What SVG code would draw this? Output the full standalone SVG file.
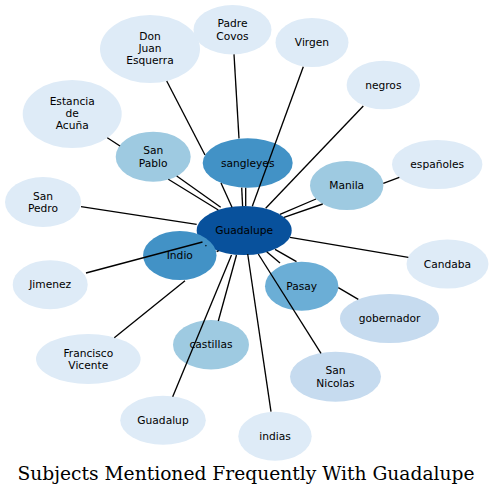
<svg xmlns="http://www.w3.org/2000/svg" width="493" height="496" viewBox="0 0 493 496">
<style>
  .n text { font-family: "DejaVu Sans", sans-serif; font-size: 10.67px; fill: #000; text-anchor: middle; }
  .c0 { fill: #deebf7; }
  .c1 { fill: #c6dbef; }
  .c2 { fill: #9ecae1; }
  .c3 { fill: #6baed6; }
  .c4 { fill: #4292c6; }
  .c5 { fill: #08519c; }
  #edges line { stroke: #000; stroke-width: 1.33; fill: none; }
  .title { font-family: "DejaVu Serif", serif; font-size: 18.67px; fill: #000; text-anchor: middle; }
</style>
<rect width="493" height="496" fill="#fff"/>
<g id="nodes">
  <g id="n-donjuan" class="n"><ellipse class="c0" cx="150" cy="49" rx="50" ry="34"/><text x="150" y="39.5">Don</text><text x="150" y="51.8">Juan</text><text x="150" y="64.1">Esquerra</text></g>
  <g id="n-padrecovos" class="n"><ellipse class="c0" cx="232.5" cy="29.7" rx="39" ry="24.7"/><text x="232.5" y="27.2">Padre</text><text x="232.5" y="39.5">Covos</text></g>
  <g id="n-virgen" class="n"><ellipse class="c0" cx="312" cy="42.5" rx="36.5" ry="24.5"/><text x="312" y="46">Virgen</text></g>
  <g id="n-negros" class="n"><ellipse class="c0" cx="383.3" cy="85" rx="36.7" ry="24.3"/><text x="383.3" y="88.5">negros</text></g>
  <g id="n-estancia" class="n"><ellipse class="c0" cx="72.2" cy="114" rx="49.5" ry="34"/><text x="72.2" y="104.5">Estancia</text><text x="72.2" y="116.8">de</text><text x="72.2" y="129.1">Acuña</text></g>
  <g id="n-sanpablo" class="n"><ellipse class="c2" cx="153.2" cy="156.7" rx="37.5" ry="25"/><text x="153.2" y="154.2">San</text><text x="153.2" y="166.5">Pablo</text></g>
  <g id="n-sangleyes" class="n"><ellipse class="c4" cx="247.7" cy="163" rx="45" ry="24.7"/><text x="247.7" y="166.5">sangleyes</text></g>
  <g id="n-espanoles" class="n"><ellipse class="c0" cx="437.2" cy="164.5" rx="45.2" ry="24.5"/><text x="437.2" y="168">españoles</text></g>
  <g id="n-manila" class="n"><ellipse class="c2" cx="346.7" cy="185.5" rx="36.7" ry="24.5"/><text x="346.7" y="189">Manila</text></g>
  <g id="n-sanpedro" class="n"><ellipse class="c0" cx="43" cy="202" rx="38" ry="25"/><text x="43" y="199.5">San</text><text x="43" y="211.8">Pedro</text></g>
  <g id="n-guadalupe" class="n"><ellipse class="c5" cx="244.2" cy="230.5" rx="47.5" ry="24.5"/><text x="244.2" y="234">Guadalupe</text></g>
  <g id="n-indio" class="n"><ellipse class="c4" cx="179.8" cy="255.5" rx="36.7" ry="24.5"/><text x="179.8" y="259">Indio</text></g>
  <g id="n-candaba" class="n"><ellipse class="c0" cx="447.5" cy="264" rx="41" ry="24.5"/><text x="447.5" y="267.5">Candaba</text></g>
  <g id="n-jimenez" class="n"><ellipse class="c0" cx="50.2" cy="284.7" rx="37.5" ry="24.5"/><text x="50.2" y="288.2">Jimenez</text></g>
  <g id="n-pasay" class="n"><ellipse class="c3" cx="301.7" cy="286.2" rx="36.7" ry="24.5"/><text x="301.7" y="289.7">Pasay</text></g>
  <g id="n-gobernador" class="n"><ellipse class="c1" cx="389.5" cy="318.5" rx="49.5" ry="24.5"/><text x="389.5" y="322">gobernador</text></g>
  <g id="n-castillas" class="n"><ellipse class="c2" cx="211" cy="344.7" rx="38" ry="24.7"/><text x="211" y="348.2">castillas</text></g>
  <g id="n-francisco" class="n"><ellipse class="c0" cx="88.3" cy="359" rx="52.3" ry="25"/><text x="88.3" y="356.5">Francisco</text><text x="88.3" y="368.8">Vicente</text></g>
  <g id="n-sannicolas" class="n"><ellipse class="c1" cx="335.5" cy="376.7" rx="45.5" ry="25"/><text x="335.5" y="374.2">San</text><text x="335.5" y="386.5">Nicolas</text></g>
  <g id="n-guadalup" class="n"><ellipse class="c0" cx="163" cy="420.2" rx="42.8" ry="24.5"/><text x="163" y="423.7">Guadalup</text></g>
  <g id="n-indias" class="n"><ellipse class="c0" cx="275" cy="436.2" rx="36.7" ry="24.5"/><text x="275" y="439.7">indias</text></g>
</g>
<g id="edges">
  <line x1="166.7" y1="81" x2="205" y2="155"/>
  <line x1="221" y1="183" x2="232" y2="207.3"/>
  <line x1="234" y1="54.4" x2="239" y2="138.4"/>
  <line x1="241.7" y1="187.6" x2="242.6" y2="206.3"/>
  <line x1="245.7" y1="187.7" x2="245.7" y2="206"/>
  <line x1="303.3" y1="66.7" x2="252.3" y2="206.3"/>
  <line x1="363.3" y1="106" x2="265.7" y2="208.3"/>
  <line x1="168.3" y1="179.3" x2="218.3" y2="210"/>
  <line x1="176.7" y1="176" x2="220.7" y2="207.3"/>
  <line x1="81" y1="206.7" x2="196.7" y2="224.3"/>
  <line x1="107.3" y1="137.7" x2="120" y2="146"/>
  <line x1="280" y1="214.3" x2="316" y2="199"/>
  <line x1="284" y1="217.3" x2="322.7" y2="204"/>
  <line x1="383.3" y1="183.3" x2="399.3" y2="177.3"/>
  <line x1="290" y1="237.3" x2="408.3" y2="257.3"/>
  <line x1="266.7" y1="251.7" x2="280" y2="263"/>
  <line x1="275" y1="249.3" x2="296.5" y2="261.7"/>
  <line x1="338.3" y1="287.7" x2="358.3" y2="299.3"/>
  <line x1="258.3" y1="254" x2="321" y2="353.3"/>
  <line x1="247.7" y1="254" x2="271" y2="411.7"/>
  <line x1="236.5" y1="255" x2="218.3" y2="321"/>
  <line x1="231.5" y1="255" x2="172.7" y2="396.7"/>
  <line x1="216.7" y1="251.7" x2="218.7" y2="250.7"/>
  <line x1="86" y1="273" x2="202.5" y2="242"/>
  <line x1="185" y1="280.7" x2="114.3" y2="337.7"/>
  <line x1="205.4" y1="245.4" x2="206.4" y2="246"/>
</g>
<text class="title" x="246" y="480">Subjects Mentioned Frequently With Guadalupe</text>
</svg>
